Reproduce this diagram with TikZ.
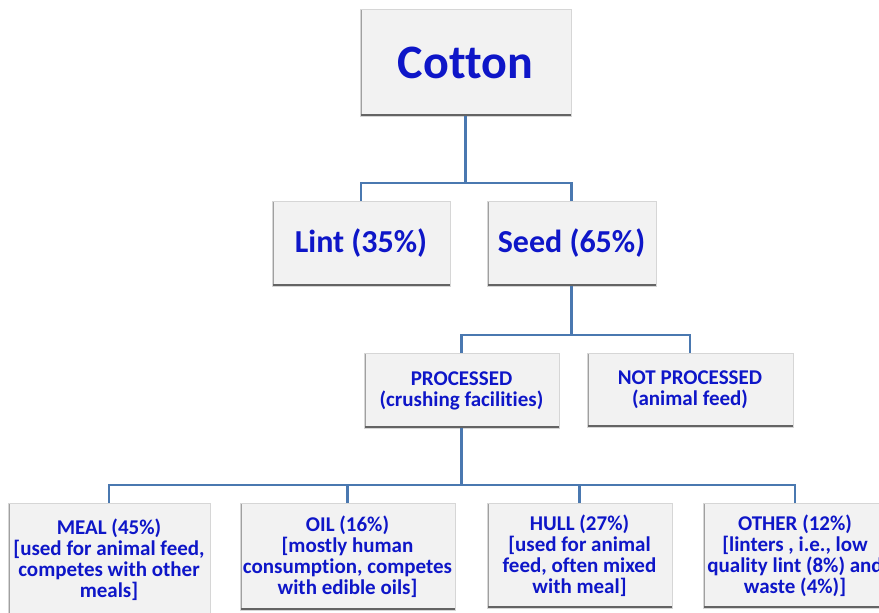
\documentclass[tikz,border=0pt]{standalone}
\usepackage{fontspec}
\setmainfont{Carlito}[Ligatures={NoCommon}]
\definecolor{txtblue}{RGB}{14,22,200}
\definecolor{linkblue}{RGB}{74,120,176}
\definecolor{boxfill}{RGB}{242,242,242}
\definecolor{boxedge}{RGB}{214,214,214}
\definecolor{leftgray}{RGB}{160,160,160}
\definecolor{shadowgray}{RGB}{100,100,100}
\tikzset{
  x=1pt, y=-1pt,
  box/.style={rectangle, fill=boxfill, draw=boxedge, line width=0.8pt,
    inner sep=0pt, align=center, text=txtblue, font=\bfseries,
    path picture={
      \draw[leftgray, line width=3.5pt] (path picture bounding box.south west) -- (path picture bounding box.north west);
      \draw[shadowgray, line width=5pt] (path picture bounding box.south west) -- (path picture bounding box.south east);
    }},
  link/.style={draw=linkblue, line width=2.6pt},
  bigtxt/.style={font=\bfseries\fontsize{48}{52}\selectfont},
  midtxt/.style={font=\bfseries\fontsize{32}{36}\selectfont},
  smalltxt/.style={font=\bfseries\fontsize{21}{21}\selectfont},
}
\begin{document}
\begin{tikzpicture}
\useasboundingbox (0,0) rectangle (879,613);
\node[box, bigtxt, minimum width=211pt, minimum height=107pt] (cotton) at (465.5,62.5) {Cotton};
\node[box, midtxt, minimum width=178pt, minimum height=85pt] (lint) at (361,243.5) {Lint (35\%)};
\node[box, midtxt, minimum width=169pt, minimum height=85pt] (seed) at (571.5,243.5) {Seed (65\%)};
\node[box, smalltxt, minimum width=195pt, minimum height=75pt] (proc) at (461.5,390.5) {PROCESSED\\(crushing facilities)};
\node[box, smalltxt, minimum width=206pt, minimum height=74pt] (notproc) at (690,390) {NOT PROCESSED\\(animal feed)};
\node[box, smalltxt, minimum width=202pt, minimum height=113pt] (meal) at (109,559.5) {MEAL (45\%)\\{}[used for animal feed,\\competes with other\\meals]};
\node[box, smalltxt, minimum width=215pt, minimum height=107pt] (oil) at (347.5,556.5) {OIL (16\%)\\{}[mostly human\\consumption, competes\\with edible oils]};
\node[box, smalltxt, minimum width=185pt, minimum height=105pt] (hull) at (579.5,555.5) {HULL (27\%)\\{}[used for animal\\feed, often mixed\\with meal]};
\node[box, smalltxt, minimum width=184pt, minimum height=105pt] (other) at (795,555.5) {OTHER (12\%)\\{}[linters , i.e., low\\quality lint (8\%) and\\waste (4\%)]};
\coordinate (j1) at (465.5,183);
\coordinate (j2) at (571.5,335);
\coordinate (j3) at (461.5,485);
\draw[link] (cotton.south) -- (j1);
\draw[link] (lint.north) |- (j1) -| (seed.north);
\draw[link] (seed.south) -- (j2);
\draw[link] (proc.north) |- (j2) -| (notproc.north);
\draw[link] (proc.south) -- (j3);
\draw[link] (meal.north) |- (j3) -| (other.north);
\draw[link] (oil.north) -- (oil.north |- j3);
\draw[link] (hull.north) -- (hull.north |- j3);
\end{tikzpicture}
\end{document}
